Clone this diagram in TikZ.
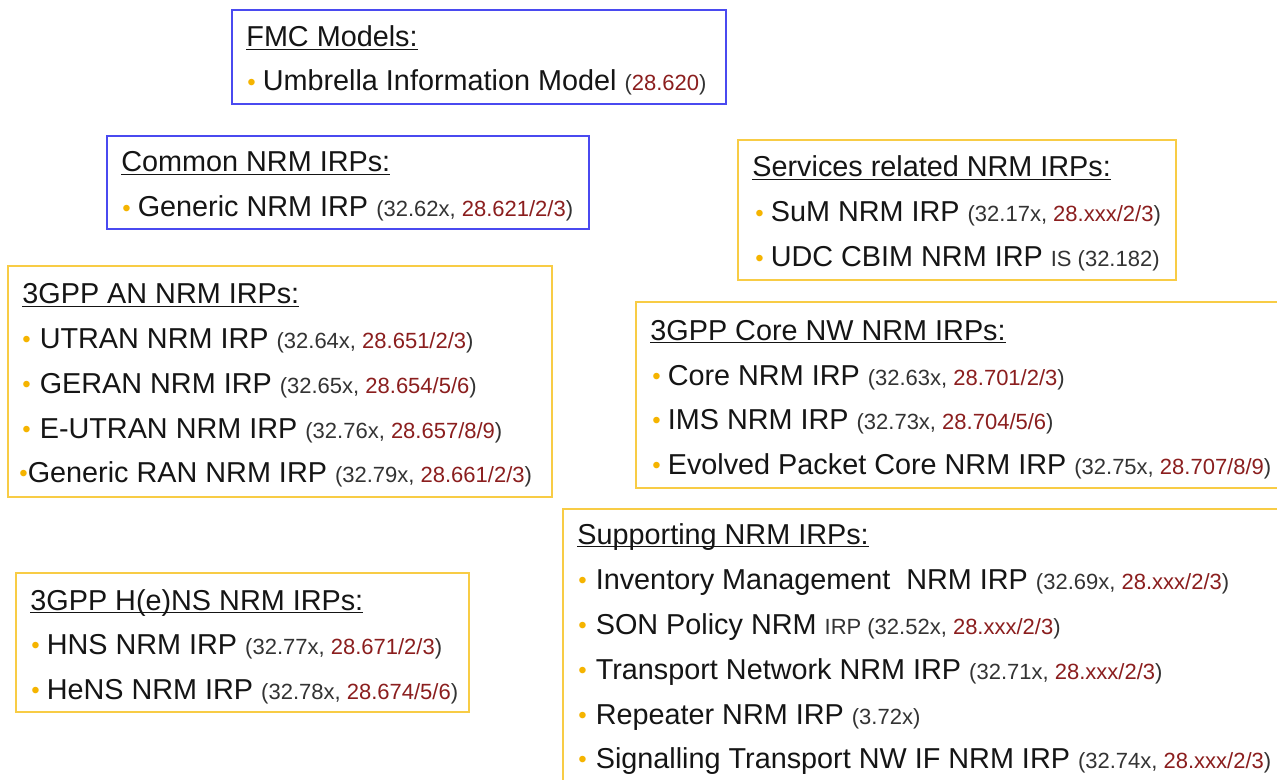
\documentclass[tikz,border=0pt]{standalone}
\usepackage{fontspec}
\setmainfont{Liberation Sans}
\usepackage{tikz}
\usetikzlibrary{positioning}

\definecolor{boxblue}{HTML}{4A4AF0}
\definecolor{boxyellow}{HTML}{F8CC45}
\definecolor{dotyellow}{HTML}{F5B400}
\definecolor{specred}{HTML}{8B1E1E}
\definecolor{specgray}{HTML}{333333}
\definecolor{txt}{HTML}{151515}

\newsavebox{\ulnbox}
\newcommand{\uln}[1]{\sbox{\ulnbox}{#1}\rlap{\rule[-1.6pt]{\wd\ulnbox}{0.75pt}}\usebox{\ulnbox}}
\newcommand{\bul}{\textcolor{dotyellow}{\raisebox{0.02em}{\fontsize{12}{12}\selectfont\textbullet}}}
\newcommand{\sm}[1]{{\fontsize{11}{13}\selectfont\color{specgray}#1}}
\newcommand{\rd}[1]{\textcolor{specred}{#1}}

\tikzset{
  bluebox/.style={draw=boxblue, line width=1pt},
  yellowbox/.style={draw=boxyellow, line width=1pt},
  ttl/.style={anchor=base west, inner sep=0pt, text=txt, font=\fontsize{14.4}{17}\selectfont},
  item/.style={anchor=base west, inner sep=0pt, text=txt, font=\fontsize{14.4}{17}\selectfont}
}

\begin{document}
\begin{tikzpicture}[x=0.5pt,y=-0.5pt]
\clip (0,0) rectangle (1277,780);
\fill[white] (0,0) rectangle (1277,780);

\draw[bluebox] (232,10) rectangle (726,104);
\node[ttl] (fmct) at (246,47) {\uln{FMC Models:}};
\node[item] (fmc1) at (247,91) {\bul\hspace{3.5pt}Umbrella Information Model \sm{(\rd{28.620})}};

\draw[bluebox] (107,136) rectangle (589,229);
\node[ttl] (comt) at (121,172) {\uln{Common NRM IRPs:}};
\node[item] (com1) at (122,217) {\bul\hspace{3.5pt}Generic NRM IRP \sm{(32.62x, \rd{28.621/2/3})}};

\draw[yellowbox] (738,140) rectangle (1176,280);
\node[ttl] (srvt) at (752,177) {\uln{Services related NRM IRPs:}};
\node[item] (srv1) at (755,222) {\bul\hspace{3.5pt}SuM NRM IRP \sm{(32.17x, \rd{28.xxx/2/3})}};
\node[item] (srv2) at (755,267) {\bul\hspace{3.5pt}UDC CBIM NRM IRP \sm{IS (32.182)}};

\draw[yellowbox] (8,266) rectangle (552,497);
\node[ttl] (ant) at (22,304) {\uln{3GPP AN NRM IRPs:}};
\node[item] (an1) at (22,348) {\bul\hspace{4.5pt}UTRAN NRM IRP \sm{(32.64x, \rd{28.651/2/3})}};
\node[item] (an2) at (22,393) {\bul\hspace{4.5pt}GERAN NRM IRP \sm{(32.65x, \rd{28.654/5/6})}};
\node[item] (an3) at (22,438) {\bul\hspace{4.5pt}E-UTRAN NRM IRP \sm{(32.76x, \rd{28.657/8/9})}};
\node[item] (an4) at (19,482) {\bul Generic RAN NRM IRP \sm{(32.79x, \rd{28.661/2/3})}};

\draw[yellowbox] (636,302) rectangle (1290,488);
\node[ttl] (cort) at (650,340) {\uln{3GPP Core NW NRM IRPs:}};
\node[item] (cor1) at (652,385) {\bul\hspace{3.5pt}Core NRM IRP \sm{(32.63x, \rd{28.701/2/3})}};
\node[item] (cor2) at (652,429) {\bul\hspace{3.5pt}IMS NRM IRP \sm{(32.73x, \rd{28.704/5/6})}};
\node[item] (cor3) at (652,474) {\bul\hspace{3.5pt}Evolved Packet Core NRM IRP \sm{(32.75x, \rd{28.707/8/9})}};

\draw[yellowbox] (563,509) rectangle (1290,800);
\node[ttl] (supt) at (577,544) {\uln{Supporting NRM IRPs:}};
\node[item] (sup1) at (578,589) {\bul\hspace{4.5pt}Inventory Management\ \ NRM IRP \sm{(32.69x, \rd{28.xxx/2/3})}};
\node[item] (sup2) at (578,634) {\bul\hspace{4.5pt}SON Policy NRM \sm{IRP (32.52x, \rd{28.xxx/2/3})}};
\node[item] (sup3) at (578,679) {\bul\hspace{4.5pt}Transport Network NRM IRP \sm{(32.71x, \rd{28.xxx/2/3})}};
\node[item] (sup4) at (578,724) {\bul\hspace{4.5pt}Repeater NRM IRP \sm{(3.72x)}};
\node[item] (sup5) at (578,768) {\bul\hspace{4.5pt}Signalling Transport NW IF NRM IRP \sm{(32.74x, \rd{28.xxx/2/3})}};

\draw[yellowbox] (16,573) rectangle (469,712);
\node[ttl] (hnst) at (30,610) {\uln{3GPP H(e)NS NRM IRPs:}};
\node[item] (hns1) at (31,654) {\bul\hspace{3.5pt}HNS NRM IRP \sm{(32.77x, \rd{28.671/2/3})}};
\node[item] (hns2) at (31,699) {\bul\hspace{3.5pt}HeNS NRM IRP \sm{(32.78x, \rd{28.674/5/6})}};

\end{tikzpicture}
\end{document}
